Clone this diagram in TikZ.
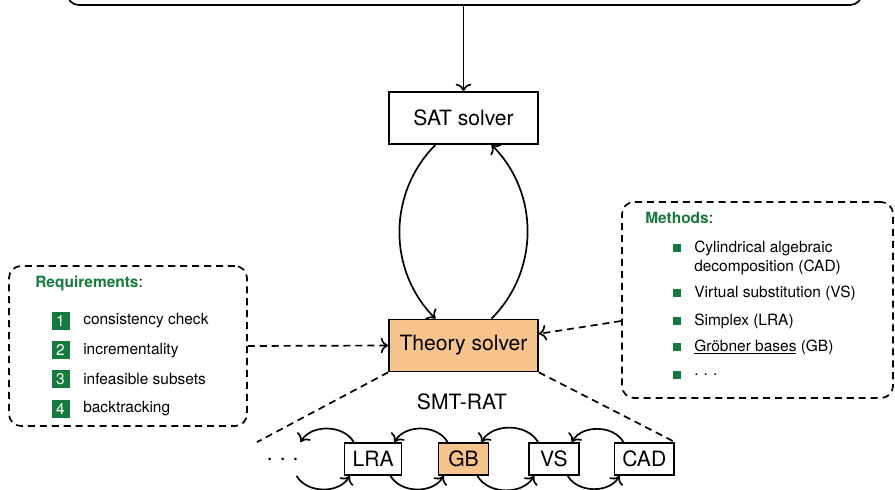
\documentclass[tikz,border=0pt]{standalone}
\usepackage{fontspec}
\setmainfont{TeX Gyre Heros}
\usepackage{tikz}
\usetikzlibrary{calc, arrows.meta}
\definecolor{reqgreen}{RGB}{22,122,60}
\definecolor{solverfill}{RGB}{246,196,140}
\def\bigtxt{\fontsize{15pt}{18pt}\selectfont}
\def\smalltxt{\fontsize{11pt}{13.5pt}\selectfont}
\def\spdots{.\hspace{0.33em}.\hspace{0.33em}.}
\tikzset{>={To[scale=1.25]}}
\tikzset{solver/.style={draw, line width=1.2pt, minimum width=3.725cm, minimum height=1.3cm, font=\bigtxt}}
\tikzset{module/.style={draw, line width=1.2pt, minimum width=1.25cm, minimum height=0.8cm, inner xsep=0.2cm, font=\bigtxt}}
\tikzset{infobox/.style={draw, line width=1.2pt, dash pattern=on 5pt off 3.5pt, rounded corners=0.3cm}}
\tikzset{link/.style={line width=1.2pt, ->}}
\tikzset{dlink/.style={line width=1.2pt, dash pattern=on 5pt off 3.5pt}}
\tikzset{numbox/.style={fill=reqgreen, text=white, minimum size=0.45cm, inner sep=0pt, font=\smalltxt}}
\tikzset{bullet/.style={fill=reqgreen, minimum size=0.21cm, inner sep=0pt}}
\tikzset{item/.style={anchor=west, inner sep=0pt, font=\smalltxt}}

\begin{document}
\begin{tikzpicture}
  \useasboundingbox (0,0) rectangle (22.375,12.225);
  % Input (cut off at the top)
  \node[draw, line width=1.2pt, rounded corners=0.3cm, minimum width=19.875cm, minimum height=1.4cm] (input) at (11.6125,12.8) {};

  % Solvers
  \node[solver] (sat) at (11.5875,9.275) {SAT solver};
  \node[solver, fill=solverfill] (theory) at (11.5875,3.5875) {Theory solver};
  \draw[link] (sat.north |- input.south) -- (sat.north);
  \draw[link] ([xshift=-0.7cm]sat.south) to[out=225,in=135] ([xshift=-0.7cm]theory.north);
  \draw[link] ([xshift=0.7cm]theory.north) to[out=45,in=-45] ([xshift=0.7cm]sat.south);

  % Requirements
  \node[infobox, minimum width=5.95cm, minimum height=4cm] (req) at (3.2,3.575) {};
  \node[item] (reqtitle) at (0.875,5.15) {\textbf{\color{reqgreen}Requirements}:};
  \foreach \n/\txt [count=\i from 0] in {1/consistency check, 2/incrementality, 3/infeasible subsets, 4/backtracking} {
    \node[numbox] (num\n) at (1.5125,4.2-0.73*\i) {\n};
    \node[item] (req\n) at (2.075,4.2-0.73*\i) {\txt};
  }

  % Methods
  \node[infobox, minimum width=6.775cm, minimum height=4.9cm] (methods) at (18.9375,4.725) {};
  \node[item] (methtitle) at (16.125,6.775) {\textbf{\color{reqgreen}Methods}:};
  \node[bullet] (b1) at (16.925,6.025) {};
  \node[item, align=left] (meth1) at (17.35,5.7875) {Cylindrical algebraic\\decomposition (CAD)};
  \foreach \n/\y/\txt in {2/4.9/Virtual substitution (VS), 3/4.2/Simplex (LRA), 4/3.55/\underline{Gröbner bases} (GB), 5/2.85/\spdots} {
    \node[bullet] (b\n) at (16.925,\y) {};
    \node[item] (meth\n) at (17.35,\y) {\txt};
  }

  % Links to the theory solver
  \draw[dlink, ->] (req.east) -- (theory.west);
  \draw[dlink, ->] (methods.west |- meth3) -- (theory);

  % SMT-RAT modules
  \node[font=\bigtxt] (smtrat) at (11.55,2.175) {SMT-RAT};
  \node[module, draw=none] (more) at (7.0675,0.75) {\spdots};
  \node[module] (lra) at (9.3275,0.75) {LRA};
  \node[module, fill=solverfill] (gb) at (11.5875,0.75) {GB};
  \node[module] (vs) at (13.8475,0.75) {VS};
  \node[module] (cad) at (16.1075,0.75) {CAD};
  \draw[dlink] (theory.south west) -- (more.north west);
  \draw[dlink] (theory.south east) -- (cad.north east);
  \foreach \a/\b in {more/lra, lra/gb, gb/vs, vs/cad} {
    \draw[link] ([xshift=0.25cm]\b.north west) to[out=120,in=60] ([xshift=-0.2cm]\a.north east);
    \draw[link] ([xshift=-0.3cm]\a.south east) to[out=-60,in=-120] ([xshift=0.15cm]\b.south west);
  }
\end{tikzpicture}
\end{document}
